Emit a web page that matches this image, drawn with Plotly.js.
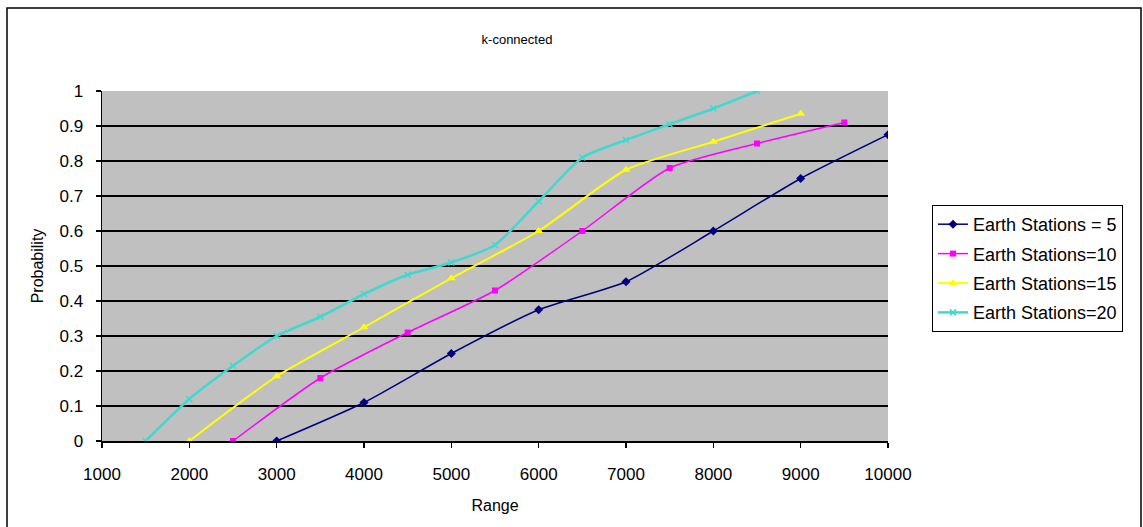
<!DOCTYPE html>
<html>
<head>
<meta charset="utf-8">
<script src="https://cdn.plot.ly/plotly-3.0.1.min.js"></script>
<style>html,body{margin:0;padding:0;background:#fff;}#chart{width:1143px;height:527px;}</style>
</head>
<body>
<div id="chart"></div>
<script>
var seriesNames = ["Earth Stations = 5", "Earth Stations=10", "Earth Stations=15", "Earth Stations=20"];

var range5  = [3000, 4000, 5000, 6000, 7000, 8000, 9000, 10000];
var prob5   = [0, 0.11, 0.25, 0.375, 0.455, 0.6, 0.75, 0.875];

var range10 = [2500, 3500, 4500, 5500, 6500, 7500, 8500, 9500];
var prob10  = [0, 0.18, 0.31, 0.43, 0.6, 0.78, 0.85, 0.91];

var range15 = [2000, 3000, 4000, 5000, 6000, 7000, 8000, 9000];
var prob15  = [0, 0.185, 0.325, 0.465, 0.6, 0.775, 0.855, 0.935];

var range20 = [1500, 2000, 2500, 3000, 3500, 4000, 4500, 5000, 5500, 6000, 6500, 7000, 7500, 8000, 8500];
var prob20  = [0, 0.12, 0.215, 0.3, 0.355, 0.42, 0.475, 0.51, 0.56, 0.685, 0.81, 0.86, 0.905, 0.95, 1];

var xTicks = [1000, 2000, 3000, 4000, 5000, 6000, 7000, 8000, 9000, 10000];
var yTicks = [0, 0.1, 0.2, 0.3, 0.4, 0.5, 0.6, 0.7, 0.8, 0.9, 1];

var traces = [
  {x: range5, y: prob5, name: seriesNames[0], mode: "lines+markers", legendgroup: "g1",
   line: {color: "#000080", width: 1.5, shape: "spline", smoothing: 0.6},
   marker: {symbol: "diamond", size: 7, color: "#000080"}},
  {x: range10, y: prob10, name: seriesNames[1], mode: "lines+markers", legendgroup: "g2",
   line: {color: "#FF00FF", width: 1.5, shape: "spline", smoothing: 0.6},
   marker: {symbol: "square", size: 6, color: "#FF00FF"}},
  {x: range15, y: prob15, name: seriesNames[2], mode: "lines+markers", legendgroup: "g3",
   line: {color: "#FFFF00", width: 2, shape: "spline", smoothing: 0.6},
   marker: {symbol: "triangle-up", size: 8, color: "#FFFF00"}},
  {x: range20, y: prob20, name: seriesNames[3], mode: "lines+markers", legendgroup: "g4",
   line: {color: "#40D8D0", width: 2.5, shape: "spline", smoothing: 0.6},
   marker: {symbol: "x-thin-open", size: 6, color: "#40D8D0", line: {color: "#40D8D0", width: 1.5}}}
];

var layout = {
  width: 1143, height: 527,
  margin: {l: 102, r: 255, t: 91, b: 86},
  paper_bgcolor: "#ffffff",
  plot_bgcolor: "#C0C0C0",
  font: {family: "Arial, Liberation Sans, sans-serif", size: 16, color: "#000"},
  title: {text: "k-connected", x: 517/1143, xanchor: "center", y: 1 - 39/527, yanchor: "middle",
          font: {size: 13, color: "#000"}},
  xaxis: {
    range: [1000, 10000], tickvals: xTicks, ticktext: xTicks.map(String),
    showgrid: false, zeroline: false,
    showline: true, linecolor: "#000", linewidth: 1.5, mirror: false,
    ticks: "outside", ticklen: 5, tickcolor: "#000", tickwidth: 1.5,
    ticklabelstandoff: 12,
    tickfont: {size: 17},
    title: {text: "Range", standoff: 17, font: {size: 16}}
  },
  yaxis: {
    range: [0, 1], tickvals: yTicks, ticktext: yTicks.map(String),
    showgrid: true, gridcolor: "#000", gridwidth: 1.5, zeroline: false,
    showline: true, linecolor: "#000", linewidth: 1.5,
    ticks: "outside", ticklen: 5, tickcolor: "#000", tickwidth: 1.5,
    ticklabelstandoff: 9,
    tickfont: {size: 17},
    title: {text: "Probability", standoff: 12, font: {size: 16}}
  },
  legend: {
    x: (932 - 102) / 786, xanchor: "left",
    y: (441 - 205) / 350, yanchor: "top",
    bordercolor: "#000", borderwidth: 1, bgcolor: "#fff",
    font: {size: 18, color: "#000"},
    tracegroupgap: 3
  },
  showlegend: true,
  shapes: [
    {type: "rect", xref: "paper", yref: "paper",
     x0: (7 - 102) / 786, x1: (1141 - 102) / 786,
     y0: (441 - 532) / 350, y1: (441 - 8) / 350,
     line: {color: "#000", width: 1.5}, fillcolor: "rgba(0,0,0,0)", layer: "below"}
  ]
};

Plotly.newPlot("chart", traces, layout, {displayModeBar: false, staticPlot: true});
</script>
</body>
</html>
